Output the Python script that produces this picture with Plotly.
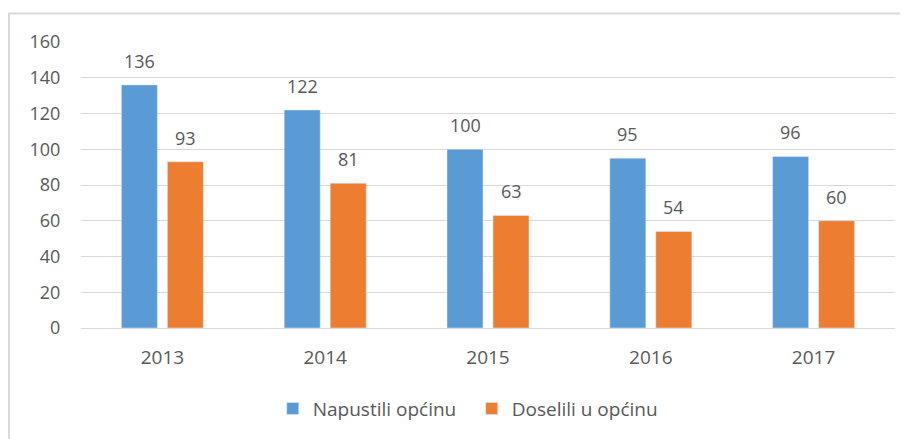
import plotly.graph_objects as go

years = ["2013", "2014", "2015", "2016", "2017"]
napustili = [136, 122, 100, 95, 96]
doselili = [93, 81, 63, 54, 60]
series_names = ["Napustili općinu", "Doselili u općinu"]
y_ticks = [0, 20, 40, 60, 80, 100, 120, 140, 160]

BLUE = "#5B9BD5"
ORANGE = "#ED7D31"
TXT = "#595959"
FONT = "Open Sans"

fig = go.Figure()
fig.add_trace(go.Bar(x=years, y=napustili, name=series_names[0], marker_color=BLUE))
fig.add_trace(go.Bar(x=years, y=doselili, name=series_names[1], marker_color=ORANGE))

annotations = []
for i, v in enumerate(napustili):
    annotations.append(dict(x=i, y=v, xref="x", yref="y", text=str(v), showarrow=False,
                            xshift=-23, yshift=10, yanchor="bottom",
                            font=dict(family=FONT, size=18, color=TXT)))
for i, v in enumerate(doselili):
    annotations.append(dict(x=i, y=v, xref="x", yref="y", text=str(v), showarrow=False,
                            xshift=23, yshift=10, yanchor="bottom",
                            font=dict(family=FONT, size=18, color=TXT)))

fig.update_layout(
    width=900, height=431,
    margin=dict(l=73, r=13, t=33.5, b=111.3, pad=0, autoexpand=False),
    paper_bgcolor="white", plot_bgcolor="white",
    barmode="group", bargap=0.435, bargroupgap=0.217,
    font=dict(family=FONT, size=18, color=TXT),
    showlegend=True,
    legend=dict(orientation="h", x=0.48, xanchor="center", y=-0.282, yanchor="middle",
                font=dict(family=FONT, size=19, color=TXT), traceorder="normal",
                entrywidth=154),
    annotations=annotations,
    shapes=[dict(type="rect", xref="paper", yref="paper",
                 x0=(1 - 73) / 814, x1=(930 - 73) / 814,
                 y0=-0.5, y1=(319.7 - 5) / 286.2,
                 line=dict(color="#D9D9D9", width=2), layer="below")],
)
fig.update_xaxes(type="category", range=[-0.5, 4.5], showgrid=False, showline=False,
                 zeroline=False, ticks="outside", ticklen=12, tickcolor="rgba(0,0,0,0)",
                 automargin=False, tickfont=dict(family=FONT, size=19, color=TXT))
fig.update_yaxes(range=[0, 160], tickvals=y_ticks, showgrid=True, gridcolor="#D9D9D9",
                 gridwidth=1, zeroline=True, zerolinecolor="#D9D9D9", zerolinewidth=1,
                 showline=False, ticks="outside", ticklen=16, tickcolor="rgba(0,0,0,0)",
                 automargin=False, tickfont=dict(family=FONT, size=18, color=TXT))

fig.write_html("out.html")
